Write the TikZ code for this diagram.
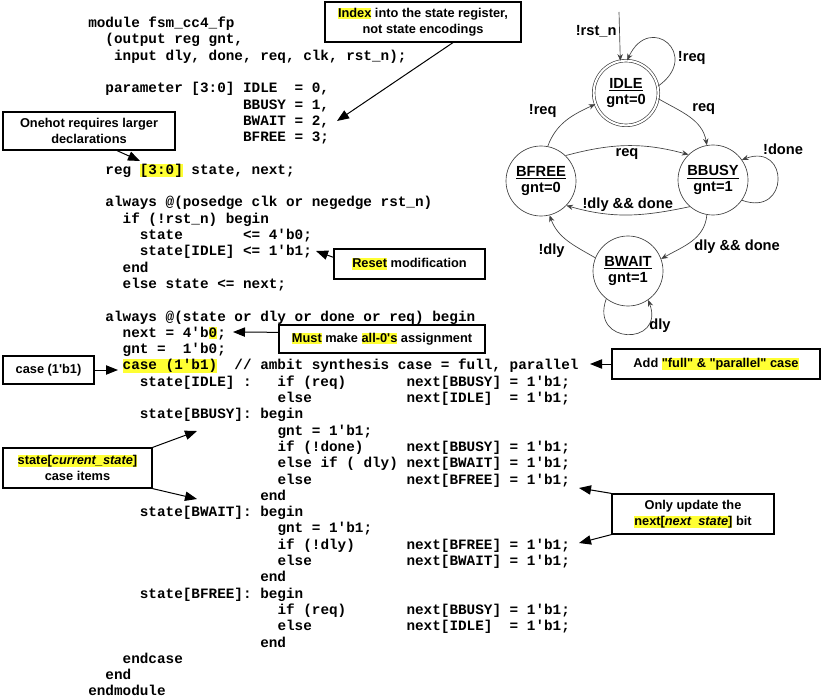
\documentclass[tikz,border=0pt]{standalone}
\usepackage{fontspec}
\setsansfont{Liberation Sans}
\setmonofont{Liberation Mono}
\usepackage{xcolor}
\usetikzlibrary{arrows.meta,calc}

\definecolor{hilite}{HTML}{FFFF33}
\definecolor{edgegray}{HTML}{404040}
\newcommand{\hl}[1]{{\setlength{\fboxsep}{0pt}\colorbox{hilite}{\rule[-0.12em]{0pt}{0.86em}#1}}}
\newcommand{\tab}[1]{\hspace*{#1\fontcharwd\font`x}}

\begin{document}
\begin{tikzpicture}[x=0.75pt,y=-0.75pt,>={Stealth[length=5pt,width=4pt]},
  code/.style={anchor=north west,inner sep=0pt,align=left,
    font=\ttfamily\bfseries\fontsize{10.75}{12.225}\selectfont},
  note/.style={draw,line width=0.9pt,fill=white,align=center,inner sep=2pt,
    font=\sffamily\bfseries\fontsize{9.6}{11.8}\selectfont},
  note arrow/.style={-{Triangle[length=9pt,width=7pt]},line width=0.75pt},
  fsm state/.style={circle,draw=edgegray,line width=0.5pt,minimum size=52.5pt,
    inner sep=0pt,align=center,font=\sffamily\bfseries\fontsize{11}{11.5}\selectfont}]

  \useasboundingbox (0,0) rectangle (823,698);

  % the verilog listing
  \node[code] (src) at (88,16) {\strut module fsm\_cc4\_fp\\%
\tab{2}(output reg gnt,\\%
\tab{3}input dly, done, req, clk, rst\_n);\\%
\mbox{}\\%
\tab{2}parameter [3:0] IDLE\tab{2}= 0,\\%
\tab{18}BBUSY = 1,\\%
\tab{18}BWAIT = 2,\\%
\tab{18}BFREE = 3;\\%
\mbox{}\\%
\tab{2}reg \hl{[3:0]} state, next;\\%
\mbox{}\\%
\tab{2}always @(posedge clk or negedge rst\_n)\\%
\tab{4}if (!rst\_n) begin\\%
\tab{6}state\tab{7}<= 4'b0;\\%
\tab{6}state[IDLE] <= 1'b1;\\%
\tab{4}end\\%
\tab{4}else state <= next;\\%
\mbox{}\\%
\tab{2}always @(state or dly or done or req) begin\\%
\tab{4}next = 4'b\hl{0};\\%
\tab{4}gnt =\tab{2}1'b0;\\%
\tab{4}\hl{case (1'b1)}\tab{2}// ambit synthesis case = full, parallel\\%
\tab{6}state[IDLE] :\tab{3}if (req)\tab{7}next[BBUSY] = 1'b1;\\%
\tab{22}else\tab{11}next[IDLE]\tab{2}= 1'b1;\\%
\tab{6}state[BBUSY]: begin\\%
\tab{22}gnt = 1'b1;\\%
\tab{22}if (!done)\tab{5}next[BBUSY] = 1'b1;\\%
\tab{22}else if ( dly) next[BWAIT] = 1'b1;\\%
\tab{22}else\tab{11}next[BFREE] = 1'b1;\\%
\tab{20}end\\%
\tab{6}state[BWAIT]: begin\\%
\tab{22}gnt = 1'b1;\\%
\tab{22}if (!dly)\tab{6}next[BFREE] = 1'b1;\\%
\tab{22}else\tab{11}next[BWAIT] = 1'b1;\\%
\tab{20}end\\%
\tab{6}state[BFREE]: begin\\%
\tab{22}if (req)\tab{7}next[BBUSY] = 1'b1;\\%
\tab{22}else\tab{11}next[IDLE]\tab{2}= 1'b1;\\%
\tab{20}end\\%
\tab{4}endcase\\%
\tab{2}end\\%
endmodule};

  % callouts
  \node[note,minimum width=147pt,minimum height=30pt] (index) at (423,22)
    {\hl{Index} into the state register,\\not state encodings};
  \node[note,minimum width=129pt,minimum height=28.5pt] (onehot) at (89,131)
    {Onehot requires larger\\declarations};
  \node[note,minimum width=113.25pt,minimum height=22.5pt] (reset) at (409.5,264)
    {\hl{Reset} modification};
  \node[note,minimum width=154.5pt,minimum height=21pt] (must) at (382,339)
    {\hl{Must} make \hl{all-0\textquotesingle s} assignment};
  \node[note,minimum width=68.25pt,minimum height=21pt] (casebox) at (48.5,370)
    {case (1\textquotesingle b1)};
  \node[note,minimum width=156pt,minimum height=22.5pt] (addfull) at (716,364)
    {Add \hl{\textquotedbl full\textquotedbl{} \& \textquotedbl parallel\textquotedbl{} case}};
  \node[note,minimum width=111.75pt,minimum height=30pt] (curstate) at (77.5,468)
    {\hl{state[\textit{current\_state}]}\\case items};
  \node[note,minimum width=121.5pt,minimum height=30pt] (update) at (693,514)
    {Only update the\\\hl{next[\textit{next\ \ state}]} bit};

  \coordinate (idxtip) at (337,121);
  \coordinate (regtip) at (140,161);
  \coordinate (rsttip) at (316,251);
  \coordinate (nexttip) at (233,332);
  \coordinate (casetip) at (118,370);
  \coordinate (fulltip) at (590,364);
  \coordinate (busytip) at (197,431);
  \coordinate (waittip) at (197,499);
  \coordinate (freetip) at (579,488);
  \coordinate (bwtip) at (579,543);

  \draw[note arrow] ([xshift=22.5pt]index.south) -- (idxtip);
  \draw[note arrow] ([xshift=21pt]onehot.south) -- (regtip);
  \draw[note arrow] ([yshift=5pt]reset.west) -- (rsttip);
  \draw[note arrow] ([yshift=5pt]must.west) -- (nexttip);
  \draw[note arrow] (casebox.east) -- (casetip);
  \draw[note arrow] (addfull.west) -- (fulltip);
  \draw[note arrow] (curstate.north east) -- (busytip);
  \draw[note arrow] (curstate.south east) -- (waittip);
  \draw[note arrow] (update.north west) -- (freetip);
  \draw[note arrow] (update.south west) -- (bwtip);

  % state machine
  \node[fsm state,double,double distance=1.5pt,minimum size=48.5pt] (idle) at (626,93) {\underline{IDLE}\\gnt=0};
  \node[fsm state] (bfree) at (541,181) {\underline{BFREE}\\gnt=0};
  \node[fsm state] (bbusy) at (713,180) {\underline{BBUSY}\\gnt=1};
  \node[fsm state] (bwait) at (628,271) {\underline{BWAIT}\\gnt=1};
  \coordinate (rst) at (619,12);

  \path[every edge/.style={draw=edgegray,line width=0.5pt,->},
    every node/.style={font=\sffamily\bfseries\fontsize{11}{12}\selectfont,inner sep=2pt}]
    (rst) edge node[left,pos=0.4] {!rst\_n} (idle.100)
    (idle.12) edge[out=35,in=65,looseness=3.4] node[right,pos=0.3] {!req} (idle.88)
    (idle.-10) edge[out=-30,in=100] node[above right] {req} (bbusy.100)
    (bfree.79) edge[out=70,in=205] node[above left,xshift=-5pt] {!req} (idle.200)
    (bfree.46) edge[out=15,in=165] node[below] {req} (bbusy.134)
    (bbusy.229) edge[out=192,in=-16] node[above] {!dly \&\& done} (bfree.-44)
    (bbusy.-35) edge[out=-20,in=20,looseness=3.2] node[above right,pos=0.85] {!done} (bbusy.35)
    (bbusy.260) edge[out=-95,in=30] node[right,yshift=-4pt] {dly \&\& done} (bwait.20)
    (bwait.158) edge[out=150,in=-70] node[below left] {!dly} (bfree.284)
    (bwait.232) edge[out=-110,in=-70,looseness=3] node[right,pos=0.75] {dly} (bwait.305);
\end{tikzpicture}
\end{document}
